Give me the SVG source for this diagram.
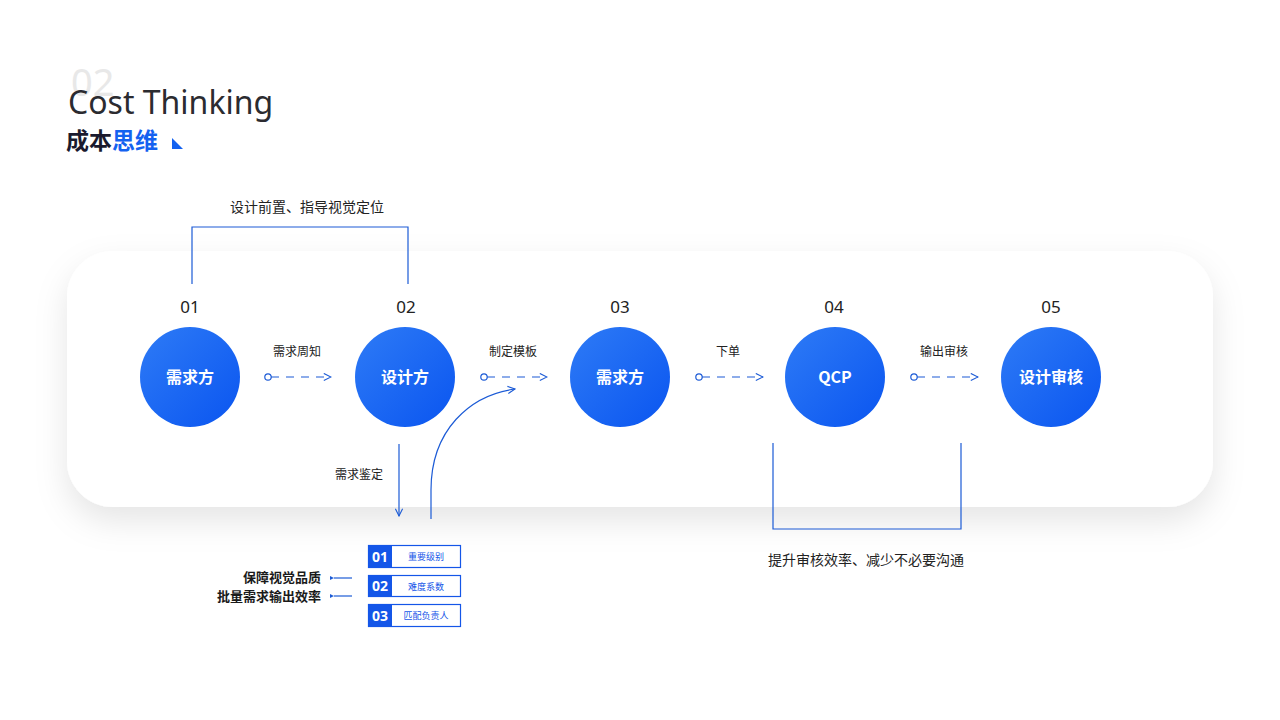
<svg xmlns="http://www.w3.org/2000/svg" width="1280" height="720" viewBox="0 0 1280 720">
<defs>
<linearGradient id="cg" x1="0" y1="0" x2="1" y2="1">
<stop offset="0" stop-color="#2E7BF6"/>
<stop offset="1" stop-color="#0A55F0"/>
</linearGradient>
<filter id="sh" x="-10%" y="-30%" width="120%" height="170%">
<feDropShadow dx="0" dy="14" stdDeviation="16" flood-color="#000" flood-opacity="0.10"/>
</filter>
<marker id="ah" viewBox="0 0 10 10" refX="9" refY="5" markerWidth="9" markerHeight="9" markerUnits="userSpaceOnUse" orient="auto">
<path d="M1 1 L9 5 L1 9" fill="none" stroke="#1C5BD6" stroke-width="1.2"/>
</marker>
<marker id="sa" viewBox="0 0 10 10" refX="1" refY="5" markerWidth="5" markerHeight="5" markerUnits="userSpaceOnUse" orient="auto">
<path d="M9 1 L1 5 L9 9 Z" fill="#1C5BD6"/>
</marker>
</defs>
<style>
.t{font-family:"Noto Sans CJK SC","Noto Sans",sans-serif}
.num{font-family:"Noto Sans","Noto Sans CJK SC",sans-serif;font-size:17px;fill:#222;text-anchor:middle}
.lbl{font-family:"Noto Sans CJK SC",sans-serif;font-size:12px;fill:#222;text-anchor:middle}
.big{font-size:14px}
.ct{font-family:"Noto Sans CJK SC","Noto Sans",sans-serif;font-size:16px;font-weight:bold;fill:#fff;text-anchor:middle}
.ln{fill:none;stroke:#1C5BD6;stroke-width:1.2}
.dash{fill:none;stroke:#1C5BD6;stroke-width:1.2;stroke-dasharray:8 7}
.bx{fill:#fff;stroke:#1456E8;stroke-width:1.2}
.bn{fill:#1456E8}
.bnt{font-family:"Noto Sans","Noto Sans CJK SC",sans-serif;font-size:14px;font-weight:bold;fill:#fff;text-anchor:middle}
.bt{font-family:"Noto Sans CJK SC",sans-serif;font-size:9px;fill:#1456E8;text-anchor:middle}
</style>
<rect width="1280" height="720" fill="#fff"/>
<g id="title">
<text x="71" y="96" font-family="Noto Sans, sans-serif" font-size="38" fill="#E8E8E8">02</text>
<text x="68" y="114" font-family="Noto Sans, Open Sans, sans-serif" font-size="32" fill="#2B2B30">Cost Thinking</text>
<text x="66" y="149" class="t" font-size="23" font-weight="bold" fill="#1A1A2E">成本<tspan fill="#1462F0">思维</tspan></text>
<path d="M172 138 L183 149 L172 149 Z" fill="#1462F0"/>
</g>
<g id="card">
<rect x="67" y="251" width="1146" height="256" rx="46" fill="#fff" filter="url(#sh)"/>
</g>
<g id="connectors">
<path class="ln" d="M192 284 V227 H408 V284"/>
<path class="ln" d="M773 443 V529 H961 V443"/>
<circle cx="268" cy="377" r="3.2" fill="#fff" stroke="#1C5BD6" stroke-width="1.2"/>
<path class="dash" d="M271 377 H331" marker-end="url(#ah)"/>
<circle cx="484" cy="377" r="3.2" fill="#fff" stroke="#1C5BD6" stroke-width="1.2"/>
<path class="dash" d="M487 377 H547" marker-end="url(#ah)"/>
<circle cx="699" cy="377" r="3.2" fill="#fff" stroke="#1C5BD6" stroke-width="1.2"/>
<path class="dash" d="M702 377 H763" marker-end="url(#ah)"/>
<circle cx="914" cy="377" r="3.2" fill="#fff" stroke="#1C5BD6" stroke-width="1.2"/>
<path class="dash" d="M917 377 H978" marker-end="url(#ah)"/>
<path class="ln" d="M399 444 V516" marker-end="url(#ah)"/>
<path class="ln" d="M431 519 V490 C431 430 470 395 515 389" marker-end="url(#ah)"/>
<path class="ln" d="M352 578 H334" stroke-width="0.9" marker-end="url(#sa)"/>
<path class="ln" d="M352 596 H334" stroke-width="0.9" marker-end="url(#sa)"/>
</g>
<g id="labels">
<text x="307" y="212" class="lbl big">设计前置、指导视觉定位</text>
<text x="866" y="565" class="lbl big">提升审核效率、减少不必要沟通</text>
<text x="297" y="356" class="lbl">需求周知</text>
<text x="513" y="356" class="lbl">制定模板</text>
<text x="728" y="356" class="lbl">下单</text>
<text x="944" y="356" class="lbl">输出审核</text>
<text x="359" y="479" class="lbl">需求鉴定</text>
<text x="321" y="582" class="t" font-size="13" font-weight="bold" fill="#1A1A1A" text-anchor="end">保障视觉品质</text>
<text x="321" y="601" class="t" font-size="13" font-weight="bold" fill="#1A1A1A" text-anchor="end">批量需求输出效率</text>
</g>
<g id="n1"><text x="190" y="313" class="num">01</text><circle cx="190" cy="377" r="50" fill="url(#cg)"/><text x="190" y="383" class="ct">需求方</text></g>
<g id="n2"><text x="406" y="313" class="num">02</text><circle cx="405" cy="377" r="50" fill="url(#cg)"/><text x="405" y="383" class="ct">设计方</text></g>
<g id="n3"><text x="620" y="313" class="num">03</text><circle cx="620" cy="377" r="50" fill="url(#cg)"/><text x="620" y="383" class="ct">需求方</text></g>
<g id="n4"><text x="834" y="313" class="num">04</text><circle cx="835" cy="377" r="50" fill="url(#cg)"/><text x="835" y="383" class="ct">QCP</text></g>
<g id="n5"><text x="1051" y="313" class="num">05</text><circle cx="1051" cy="377" r="50" fill="url(#cg)"/><text x="1051" y="383" class="ct">设计审核</text></g>
<g id="b1"><rect class="bx" x="368.5" y="545.5" width="92" height="22"/><rect class="bn" x="368" y="545" width="24" height="23"/><text x="380" y="561.5" class="bnt">01</text><text x="426" y="560" class="bt">重要级别</text></g>
<g id="b2"><rect class="bx" x="368.5" y="575.5" width="92" height="21"/><rect class="bn" x="368" y="575" width="24" height="22"/><text x="380" y="591" class="bnt">02</text><text x="426" y="589.5" class="bt">难度系数</text></g>
<g id="b3"><rect class="bx" x="368.5" y="604.5" width="92" height="22"/><rect class="bn" x="368" y="604" width="24" height="23"/><text x="380" y="620.5" class="bnt">03</text><text x="426" y="619" class="bt">匹配负责人</text></g>
</svg>
